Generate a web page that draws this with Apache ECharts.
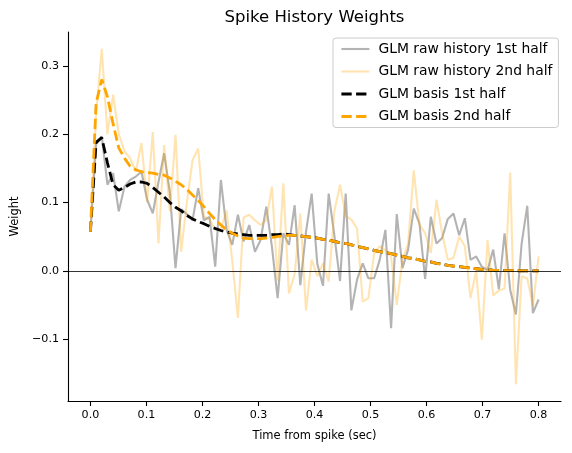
<!DOCTYPE html>
<html><head><meta charset="utf-8">
<script src="https://cdn.jsdelivr.net/npm/echarts@6/dist/echarts.min.js"></script>
<style>html,body{margin:0;padding:0;background:#fff}#c{width:572px;height:453px}</style>
</head><body><div id="c"></div>
<script>
const seriesNames = ['GLM raw history 1st half', 'GLM raw history 2nd half', 'GLM basis 1st half', 'GLM basis 2nd half'];
const raw1 = [0.057,0.185,0.197,0.126,0.143,0.087,0.123,0.133,0.138,0.145,
  0.104,0.084,0.130,0.172,0.115,0.004,0.090,0.083,0.074,0.121,
  0.074,0.079,0.006,0.133,0.060,0.038,0.082,0.043,0.067,0.028,
  0.045,0.094,0.035,-0.040,0.055,0.038,0.096,-0.021,0.057,0.113,
  0.010,-0.022,0.113,0.052,-0.015,0.113,-0.058,-0.013,0.011,-0.011,
  -0.011,0.016,0.060,-0.084,0.083,0.004,0.031,0.091,0.069,-0.012,
  0.079,0.040,0.048,0.076,0.084,0.052,0.077,0.016,0.021,0.006,
  0.001,0.031,-0.027,0.055,-0.028,-0.064,0.039,0.095,-0.062,-0.042];
const raw2 = [0.060,0.230,0.325,0.200,0.258,0.200,0.175,0.165,0.145,0.187,
  0.100,0.203,0.040,0.184,0.087,0.199,0.028,0.100,0.162,0.179,
  0.080,0.075,0.060,0.062,0.088,0.015,-0.069,0.078,0.082,0.074,
  0.067,0.074,0.123,-0.015,0.128,-0.033,-0.005,0.084,-0.058,0.016,
  -0.008,0.011,-0.016,0.087,0.126,0.080,0.075,0.062,-0.045,-0.040,
  0.025,0.036,0.030,0.020,-0.050,0.016,0.040,0.147,0.068,0.055,
  0.026,0.104,0.055,0.016,0.019,0.050,0.036,-0.040,0.000,-0.101,
  0.045,-0.036,-0.029,-0.026,0.144,-0.166,-0.008,-0.011,-0.052,0.021];
const basis1 = [0.057,0.188,0.195,0.158,0.126,0.118,0.122,0.127,0.130,0.130,
  0.128,0.122,0.115,0.108,0.100,0.093,0.088,0.081,0.076,0.072,
  0.069,0.065,0.062,0.059,0.057,0.055,0.054,0.053,0.052,0.052,
  0.052,0.052,0.053,0.053,0.054,0.053,0.052,0.051,0.050,0.049,
  0.048,0.046,0.045,0.043,0.041,0.040,0.038,0.036,0.034,0.032,
  0.030,0.028,0.027,0.025,0.023,0.021,0.019,0.018,0.016,0.014,
  0.013,0.011,0.010,0.008,0.007,0.006,0.005,0.004,0.003,0.002,
  0.0015,0.001,0.0006,0.0004,0.0002,0.0001,0,0,0,0];
const basis2 = [0.057,0.245,0.280,0.255,0.215,0.180,0.165,0.153,0.148,0.145,
  0.144,0.143,0.141,0.140,0.136,0.131,0.126,0.119,0.111,0.103,
  0.094,0.084,0.075,0.067,0.060,0.055,0.051,0.048,0.047,0.047,
  0.047,0.048,0.049,0.050,0.051,0.052,0.052,0.051,0.050,0.049,
  0.048,0.046,0.045,0.043,0.041,0.040,0.038,0.036,0.034,0.032,
  0.030,0.028,0.027,0.025,0.023,0.021,0.019,0.018,0.016,0.014,
  0.013,0.011,0.010,0.008,0.007,0.006,0.005,0.004,0.003,0.002,
  0.0015,0.001,0.0006,0.0004,0.0002,0.0001,0,0,0,0];
const xTicks = [0, 0.1, 0.2, 0.3, 0.4, 0.5, 0.6, 0.7, 0.8];
const yTicks = [-0.1, 0, 0.1, 0.2, 0.3];
const tMax = 0.8;
const times = raw1.map((_, i) => i * tMax / (raw1.length - 1));
const pairs = arr => times.map((t, i) => [t, arr[i]]);

const FONT = 'DejaVu Sans';
const fmt = v => (Math.abs(v) < 1e-9 ? 0 : v).toFixed(1).replace('-', '\u2212');
const DASH = [10.3, 4.4];
const styles = [
  {color: 'rgba(128,128,128,0.6)', width: 2.1, type: 'solid'},
  {color: 'rgba(255,165,0,0.3)', width: 2.1, type: 'solid'},
  {color: '#000000', width: 2.8, type: DASH},
  {color: '#ffa500', width: 2.8, type: DASH}
];

const chart = echarts.init(document.getElementById('c'), null, {renderer: 'canvas'});
chart.setOption({
  animation: false,
  backgroundColor: '#fff',
  grid: {left: 68, right: 11, top: 32, bottom: 52, containLabel: false},
  graphic: [{
    type: 'text', x: 314.5, y: 18,
    style: {text: 'Spike History Weights', fontSize: 16.5, fontFamily: FONT, fill: '#000',
            align: 'center', verticalAlign: 'middle', textAlign: 'center', textVerticalAlign: 'middle'}
  }],
  legend: {
    orient: 'vertical', left: 333, top: 38, padding: [3, 6, 3, 7], itemGap: 6.5,
    itemWidth: 28, itemHeight: 14,
    backgroundColor: 'rgba(255,255,255,0.8)', borderColor: '#cccccc', borderWidth: 1, borderRadius: 3,
    itemStyle: {opacity: 0},
    textStyle: {fontFamily: FONT, fontSize: 13.9, color: '#000', lineHeight: 16, padding: [0, 0, 0, 4]},
    data: seriesNames.map((n, i) => ({
      name: n,
      itemStyle: {opacity: 0},
      lineStyle: {color: styles[i].color, width: styles[i].width, type: styles[i].type, opacity: 1}
    }))
  },
  xAxis: {
    type: 'value', min: -0.04, max: 0.84,
    name: 'Time from spike (sec)', nameLocation: 'middle', nameGap: 29,
    nameTextStyle: {fontFamily: FONT, fontSize: 11.5, color: '#000'},
    axisLine: {show: true, onZero: false, lineStyle: {color: '#000', width: 1.1}},
    axisTick: {show: true, inside: false, length: 5, lineStyle: {color: '#000', width: 1.1}, customValues: xTicks},
    axisLabel: {fontFamily: FONT, fontSize: 11.1, color: '#000', margin: 9, customValues: xTicks, formatter: fmt},
    splitLine: {show: false}
  },
  yAxis: {
    type: 'value', min: -0.1906, max: 0.3496,
    name: 'Weight', nameLocation: 'middle', nameGap: 46, nameRotate: 90,
    nameTextStyle: {fontFamily: FONT, fontSize: 11.5, color: '#000'},
    axisLine: {show: true, onZero: false, lineStyle: {color: '#000', width: 1.1}},
    axisTick: {show: true, inside: false, length: 5, lineStyle: {color: '#000', width: 1.1}, customValues: yTicks},
    axisLabel: {fontFamily: FONT, fontSize: 11.1, color: '#000', margin: 9, customValues: yTicks, formatter: fmt},
    splitLine: {show: false}
  },
  series: [
    {name: seriesNames[0], type: 'line', data: pairs(raw1), symbol: 'none', showSymbol: false,
     lineStyle: styles[0], itemStyle: {color: styles[0].color}, emphasis: {disabled: true},
     markLine: {silent: true, symbol: ['none', 'none'], label: {show: false},
                lineStyle: {color: '#000', width: 0.8, type: 'solid'}, emphasis: {disabled: true},
                data: [{yAxis: 0}]}},
    {name: seriesNames[1], type: 'line', data: pairs(raw2), symbol: 'none', showSymbol: false,
     lineStyle: styles[1], itemStyle: {color: styles[1].color}, emphasis: {disabled: true}},
    {name: seriesNames[2], type: 'line', data: pairs(basis1), symbol: 'none', showSymbol: false,
     lineStyle: styles[2], itemStyle: {color: styles[2].color}, emphasis: {disabled: true}},
    {name: seriesNames[3], type: 'line', data: pairs(basis2), symbol: 'none', showSymbol: false,
     lineStyle: styles[3], itemStyle: {color: styles[3].color}, emphasis: {disabled: true}}
  ]
});
</script>
</body></html>
